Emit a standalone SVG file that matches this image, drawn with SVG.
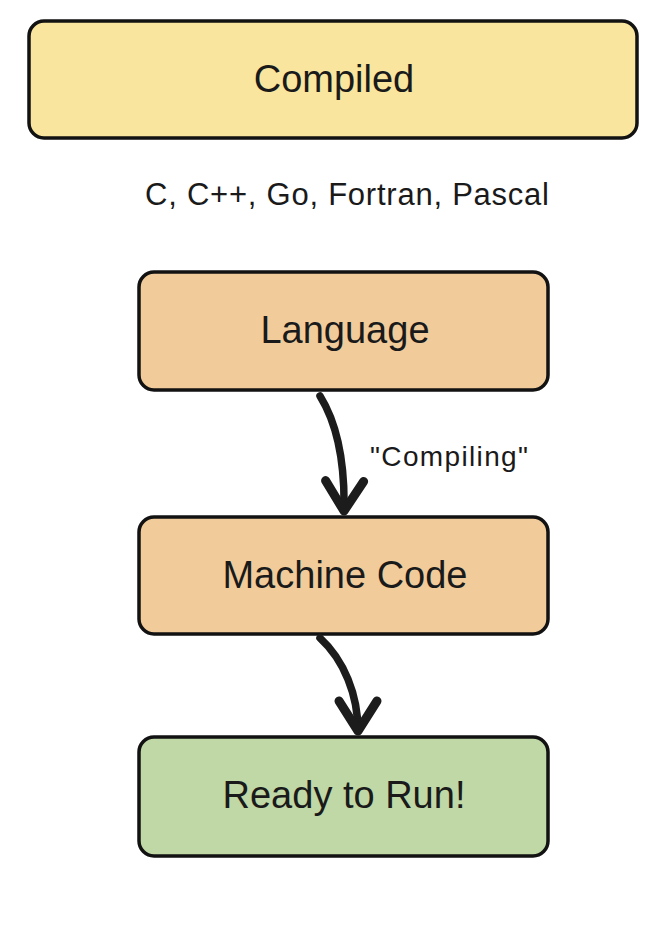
<svg xmlns="http://www.w3.org/2000/svg" width="671" height="927" viewBox="0 0 671 927">
<style>
.box{stroke:#121212;stroke-width:3.5}
.lbl{font-family:"Liberation Sans",Arial,sans-serif;font-size:38px;fill:#1a1a1a;text-anchor:middle}
.sub{font-family:"Liberation Sans",Arial,sans-serif;font-size:31px;fill:#1a1a1a;text-anchor:middle}
.edge{fill:none;stroke:#1c1c1c;stroke-width:7.5;stroke-linecap:round}
</style>
<defs>
<marker id="ah" markerUnits="userSpaceOnUse" markerWidth="60" markerHeight="60" refX="0" refY="0" viewBox="-40 -30 50 60" orient="auto" overflow="visible">
<path d="M-30,-19 L0,0 L-30,19" fill="none" stroke="#1c1c1c" stroke-width="9" stroke-linecap="round" stroke-linejoin="round"/>
</marker>
</defs>
<rect width="671" height="927" fill="#ffffff"/>
<g id="compiled">
<rect class="box" x="29" y="21" width="608" height="117" rx="15" fill="#f9e59d"/>
<text class="lbl" x="334" y="92">Compiled</text>
</g>
<g id="examples">
<text class="sub" x="347" y="205" textLength="404" lengthAdjust="spacing">C, C++, Go, Fortran, Pascal</text>
</g>
<g id="language">
<rect class="box" x="139" y="272" width="409" height="118" rx="15" fill="#f1cc9a"/>
<text class="lbl" x="345" y="343">Language</text>
</g>
<g id="machine-code">
<rect class="box" x="139" y="517" width="409" height="117" rx="15" fill="#f1cc9a"/>
<text class="lbl" x="345" y="588">Machine Code</text>
</g>
<g id="ready">
<rect class="box" x="139" y="737" width="409" height="119" rx="15" fill="#bfd8a6"/>
<text class="lbl" x="344" y="808">Ready to Run!</text>
</g>
<g id="connectors">
<path class="edge" d="M320,396 C338,425 345,462 344,511" marker-end="url(#ah)"/>
<text class="sub" x="449" y="466" style="font-size:28px" textLength="158" lengthAdjust="spacing">"Compiling"</text>
<path class="edge" d="M320,638 C344,660 358,695 358,731" marker-end="url(#ah)"/>
</g>
</svg>
